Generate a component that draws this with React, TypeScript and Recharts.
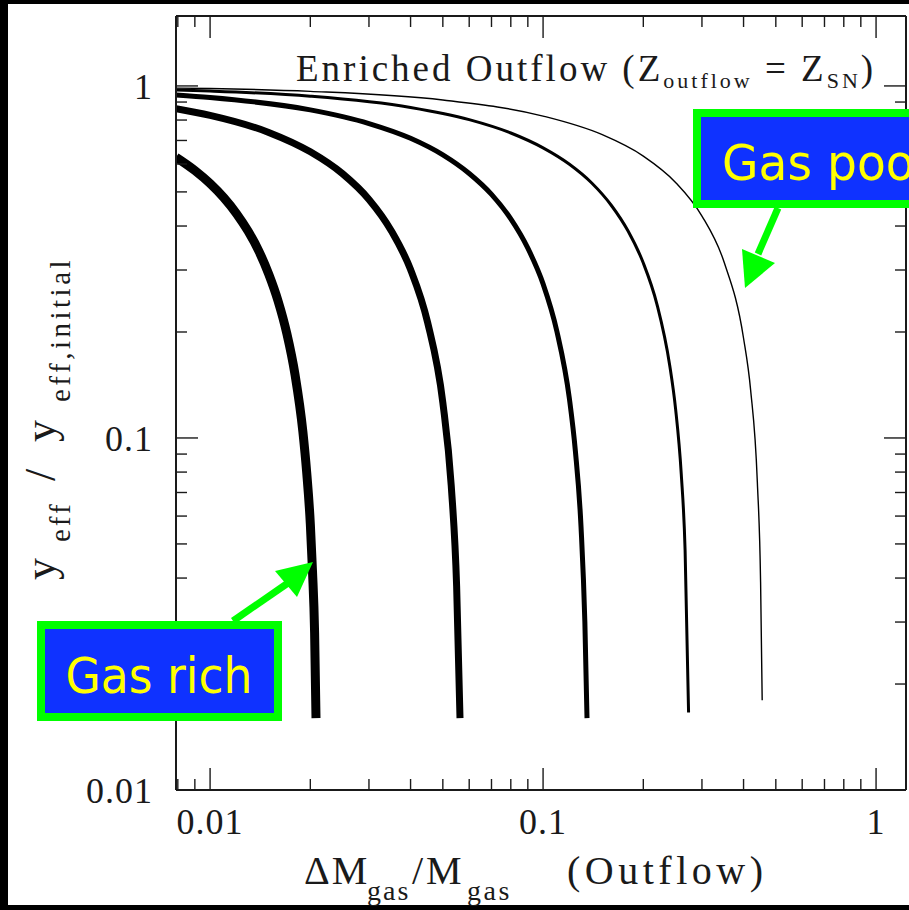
import { LineChart, Line, XAxis, YAxis } from 'recharts'

// Outflow fraction (ΔM_gas / M_gas) and normalised effective yield for each
// model track, from the most gas-rich (thickest) to the most gas-poor (thinnest)
const trackAX = [0.0079, 0.009, 0.01, 0.011, 0.012, 0.013, 0.014, 0.015, 0.016, 0.017, 0.018, 0.019, 0.0195, 0.02, 0.0203, 0.0206, 0.0208]
const trackAY = [0.627, 0.575, 0.528, 0.481, 0.434, 0.387, 0.34, 0.292, 0.245, 0.198, 0.151, 0.104, 0.08, 0.057, 0.042, 0.028, 0.016]

const trackBX = [0.0079, 0.01, 0.015, 0.02, 0.025, 0.03, 0.035, 0.04, 0.045, 0.05, 0.053, 0.055, 0.0563]
const trackBY = [0.862, 0.825, 0.738, 0.65, 0.563, 0.476, 0.388, 0.301, 0.213, 0.126, 0.073, 0.038, 0.016]

const trackCX = [0.0079, 0.01, 0.02, 0.03, 0.04, 0.05, 0.06, 0.07, 0.08, 0.09, 0.1, 0.11, 0.12, 0.125, 0.13, 0.1335, 0.1355]
const trackCY = [0.943, 0.927, 0.855, 0.782, 0.71, 0.637, 0.564, 0.492, 0.419, 0.346, 0.274, 0.201, 0.129, 0.092, 0.056, 0.03, 0.016]

const trackDX = [0.0079, 0.01, 0.02, 0.04, 0.06, 0.08, 0.1, 0.12, 0.14, 0.16, 0.18, 0.2, 0.22, 0.24, 0.25, 0.26, 0.267, 0.2735]
const trackDY = [0.974, 0.967, 0.935, 0.869, 0.802, 0.735, 0.667, 0.599, 0.53, 0.459, 0.387, 0.314, 0.239, 0.161, 0.121, 0.079, 0.048, 0.0166]

const trackEX = [0.0079, 0.01, 0.02, 0.05, 0.1, 0.15, 0.2, 0.25, 0.3, 0.35, 0.4, 0.42, 0.44, 0.45, 0.455]
const trackEY = [0.986, 0.983, 0.965, 0.912, 0.821, 0.728, 0.632, 0.532, 0.427, 0.315, 0.192, 0.137, 0.075, 0.039, 0.018]

const X_TICKS = [0.008, 0.009, 0.01, 0.02, 0.03, 0.04, 0.05, 0.06, 0.07, 0.08, 0.09, 0.1, 0.2, 0.3, 0.4, 0.5, 0.6, 0.7, 0.8, 0.9, 1]
const Y_TICKS = [0.01, 0.02, 0.03, 0.04, 0.05, 0.06, 0.07, 0.08, 0.09, 0.1, 0.2, 0.3, 0.4, 0.5, 0.6, 0.7, 0.8, 0.9, 1]
const LABELLED = [0.01, 0.1, 1]

const X_DOMAIN = [0.0079, 1.23]
const Y_DOMAIN = [0.01, 1.58]

const zip = (xs: number[], ys: number[]) => xs.map((x, i) => ({ x, y: ys[i] }))

const tracks = [
  { id: 'a', data: zip(trackAX, trackAY), width: 9 },
  { id: 'b', data: zip(trackBX, trackBY), width: 7 },
  { id: 'c', data: zip(trackCX, trackCY), width: 5 },
  { id: 'd', data: zip(trackDX, trackDY), width: 3 },
  { id: 'e', data: zip(trackEX, trackEY), width: 1.4 },
]

const SERIF = '"Liberation Serif", "DejaVu Serif", serif'
const SANS = '"DejaVu Sans", "Liberation Sans", sans-serif'
const GREEN = '#00ff00'
const BLUE = '#0f32ff'
const YELLOW = '#ffff00'
const INK = '#1a1a1a'

// ticks point into the plot; only the decades get a number
// eslint-disable-next-line @typescript-eslint/no-explicit-any
const AxisTick = ({ x, y, payload, side }: any) => {
  const major = LABELLED.includes(payload.value)
  const len = major ? 22 : 11
  const lineProps = { stroke: INK, strokeWidth: 1.4 }
  let tick
  let label = null
  if (side === 'bottom') {
    tick = <line x1={x} y1={y} x2={x} y2={y - len} {...lineProps} />
    if (major)
      label = (
        <text x={x} y={y + 44} textAnchor="middle" fontFamily={SERIF} fontSize={36} fill={INK} letterSpacing={1}>
          {String(payload.value)}
        </text>
      )
  } else if (side === 'top') {
    tick = <line x1={x} y1={y} x2={x} y2={y + len} {...lineProps} />
  } else if (side === 'left') {
    tick = <line x1={x} y1={y} x2={x + len} y2={y} {...lineProps} />
    if (major)
      label = (
        <text x={x - 23} y={y + 13} textAnchor="end" fontFamily={SERIF} fontSize={36} fill={INK} letterSpacing={1}>
          {String(payload.value)}
        </text>
      )
  } else {
    tick = <line x1={x} y1={y} x2={x - len} y2={y} {...lineProps} />
  }
  return (
    <g>
      {tick}
      {label}
    </g>
  )
}

const frame = { stroke: INK, strokeWidth: 2 }

function Callouts() {
  return (
    <svg width={909} height={910} style={{ position: 'absolute', left: 0, top: 0, pointerEvents: 'none' }}>
      <text x={296} y={81} fontFamily={SERIF} fontSize={37} fill={INK} letterSpacing={3} style={{ whiteSpace: 'pre' }}>
        Enriched Outflow (Z
        <tspan fontSize={22} dy={7}>outflow</tspan>
        <tspan dy={-7}> = Z</tspan>
        <tspan fontSize={22} dy={7}>SN</tspan>
        <tspan dy={-7}>)</tspan>
      </text>

      <text y={884} fontFamily={SERIF} fontSize={40} fill={INK}>
        <tspan x={304} letterSpacing={2}>ΔM</tspan>
        <tspan x={367} dy={16} fontSize={28} letterSpacing={2}>gas</tspan>
        <tspan x={412} dy={-16} letterSpacing={3}>/M</tspan>
        <tspan x={467} dy={16} fontSize={28} letterSpacing={2.5}>gas</tspan>
        <tspan x={567} dy={-16} letterSpacing={4.5}>(Outflow)</tspan>
      </text>

      {/* rotated frame: +x runs up the page, origin at the middle of the title */}
      <text transform="translate(55,417) rotate(-90)" y={0} fontFamily={SERIF} fontSize={44} fill={INK}>
        <tspan x={-163}>y</tspan>
        <tspan x={-125} dy={15} fontSize={29} letterSpacing={3}>eff</tspan>
        <tspan x={-64} dy={-15}>/</tspan>
        <tspan x={-25}>y</tspan>
        <tspan x={15} dy={15} fontSize={29} letterSpacing={3.5}>eff,initial</tspan>
      </text>

      {/* gas rich callout */}
      <line x1={233} y1={621} x2={288} y2={583} stroke={GREEN} strokeWidth={7} />
      <polygon points="313,562 275,571 297,597" fill={GREEN} />
      <rect x={41} y={625} width={237} height={92} fill={BLUE} stroke={GREEN} strokeWidth={8} />
      <text x={159} y={693} textAnchor="middle" fontFamily={SANS} fontSize={50} fill={YELLOW} textLength={187} lengthAdjust="spacingAndGlyphs">
        Gas rich
      </text>

      {/* gas poor callout */}
      <line x1={778} y1={208} x2={758} y2={254} stroke={GREEN} strokeWidth={7} />
      <polygon points="745,288 742,249 775,263" fill={GREEN} />
      <rect x={697} y={113} width={260} height={91} fill={BLUE} stroke={GREEN} strokeWidth={8} />
      <text x={722} y={180} fontFamily={SANS} fontSize={50} fill={YELLOW} textLength={212} lengthAdjust="spacingAndGlyphs">
        Gas poor
      </text>
    </svg>
  )
}

export default function App() {
  return (
    <div style={{ position: 'absolute', left: 0, top: 0, width: 909, height: 910, background: '#000', overflow: 'hidden' }}>
      <div style={{ position: 'absolute', left: 8, top: 4, width: 901, height: 901, background: '#fff' }} />
      <div style={{ position: 'absolute', left: 0, top: 0 }}>
        <LineChart width={909} height={910} margin={{ top: 15, right: 2, bottom: 60, left: 76 }}>
          <XAxis
            xAxisId="bottom"
            type="number"
            dataKey="x"
            scale="log"
            domain={X_DOMAIN}
            allowDataOverflow
            ticks={X_TICKS}
            interval={0}
            tickLine={false}
            tickSize={0}
            tickMargin={0}
            axisLine={frame}
            tick={<AxisTick side="bottom" />}
            height={60}
          />
          <XAxis
            xAxisId="top"
            orientation="top"
            type="number"
            dataKey="x"
            scale="log"
            domain={X_DOMAIN}
            allowDataOverflow
            ticks={X_TICKS}
            interval={0}
            tickLine={false}
            tickSize={0}
            tickMargin={0}
            axisLine={frame}
            tick={<AxisTick side="top" />}
            height={1}
          />
          <YAxis
            yAxisId="left"
            type="number"
            dataKey="y"
            scale="log"
            domain={Y_DOMAIN}
            allowDataOverflow
            ticks={Y_TICKS}
            interval={0}
            tickLine={false}
            tickSize={0}
            tickMargin={0}
            axisLine={frame}
            tick={<AxisTick side="left" />}
            width={100}
          />
          <YAxis
            yAxisId="right"
            orientation="right"
            type="number"
            dataKey="y"
            scale="log"
            domain={Y_DOMAIN}
            allowDataOverflow
            ticks={Y_TICKS}
            interval={0}
            tickLine={false}
            tickSize={0}
            tickMargin={0}
            axisLine={frame}
            tick={<AxisTick side="right" />}
            width={1}
          />
          {tracks.map((t) => (
            <Line
              key={t.id}
              xAxisId="bottom"
              yAxisId="left"
              data={t.data}
              dataKey="y"
              type="monotone"
              stroke="#000"
              strokeWidth={t.width}
              dot={false}
              activeDot={false}
              isAnimationActive={false}
            />
          ))}
        </LineChart>
      </div>
      <Callouts />
    </div>
  )
}
